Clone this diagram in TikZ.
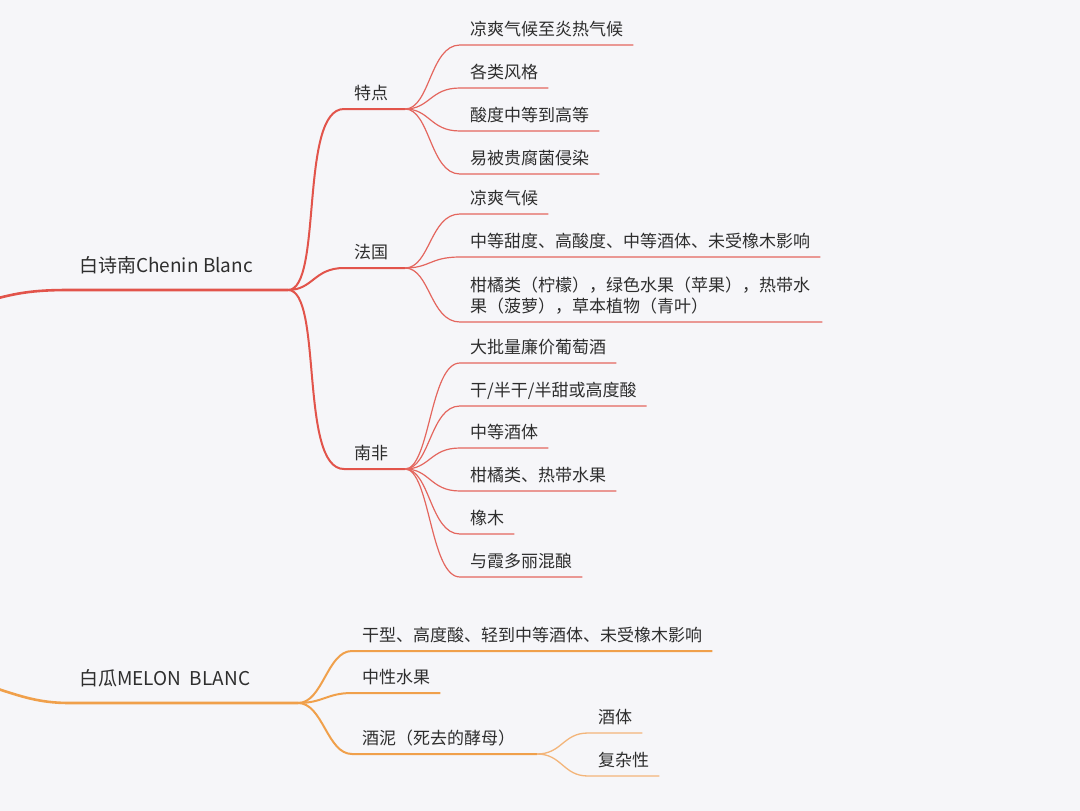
\documentclass[tikz,border=0pt]{standalone}
\usepackage{fontspec}
\setmainfont{Noto Sans CJK SC}
\usetikzlibrary{calc}

\definecolor{bgcol}{HTML}{F6F6F9}
\definecolor{txtcol}{HTML}{2E2E2E}
\definecolor{redline}{HTML}{E2544B}
\definecolor{redleaf}{HTML}{E4665E}
\definecolor{orline}{HTML}{F0A04B}
\definecolor{orleaf}{HTML}{F3B57A}

\begin{document}
\begin{tikzpicture}[
    x=1pt, y=-1pt,
    topic/.style={
        anchor=south west,
        inner xsep=10pt,
        inner ysep=14pt,
        text depth=3pt,
        text=txtcol,
        font=\fontsize{19}{23}\selectfont
    },
    subtopic/.style={
        anchor=south west,
        inner xsep=10pt,
        inner ysep=6pt,
        text depth=3pt,
        text=txtcol,
        font=\fontsize{17}{21}\selectfont
    },
    leaf/.style={subtopic, align=left},
    redmain/.style={line width=2.6pt, redline},
    redsub/.style={line width=2pt, redline},
    redleafl/.style={line width=1.2pt, redleaf},
    ormain/.style={line width=2.6pt, orline},
    orsub/.style={line width=2pt, orline},
    orleafl/.style={line width=1.3pt, orleaf}
]

% Background and frame
\useasboundingbox (0,0) rectangle (1080,811);
\fill[bgcol] (0,0) rectangle (1080,811);

% Roots coming in from the left
\coordinate (root1) at (-5,299);
\coordinate (root2) at (-5,688);

% ---------------- Chenin Blanc ----------------
\node[topic] (chenin) at (69,290) {白诗南Chenin Blanc};
\coordinate (cj) at (288,290);
\draw[redmain] (root1) .. controls +(25,-7) and +(-30,0) .. (chenin.south west) -- (cj);

% Sub topics
\node[subtopic] (tedian) at (344,109) {特点};
\node[subtopic] (faguo) at (344,268) {法国};
\node[subtopic] (nanfei) at (344,469) {南非};
\coordinate (tj) at (405,109);
\coordinate (fj) at (405,268);
\coordinate (nj) at (405,469);

\draw[redsub] (cj) .. controls +(35,0) and +(-45,0) .. (tedian.south west) -- (tj);
\draw[redsub] (cj) .. controls +(25,0) and +(-30,0) .. (faguo.south west) -- (fj);
\draw[redsub] (cj) .. controls +(35,0) and +(-45,0) .. (nanfei.south west) -- (nj);

% Leaves of 特点
\node[leaf] (t1) at (460,45) {凉爽气候至炎热气候};
\node[leaf] (t2) at (460,88) {各类风格};
\node[leaf] (t3) at (460,131) {酸度中等到高等};
\node[leaf] (t4) at (460,174) {易被贵腐菌侵染};

\draw[redleafl] (tj) .. controls +(25,0) and +(-30,0) .. (t1.south west) -- (t1.south east);
\draw[redleafl] (tj) .. controls +(25,0) and +(-30,0) .. (t2.south west) -- (t2.south east);
\draw[redleafl] (tj) .. controls +(25,0) and +(-30,0) .. (t3.south west) -- (t3.south east);
\draw[redleafl] (tj) .. controls +(25,0) and +(-30,0) .. (t4.south west) -- (t4.south east);

% Leaves of 法国
\node[leaf] (f1) at (460,214) {凉爽气候};
\node[leaf] (f2) at (460,257) {中等甜度、高酸度、中等酒体、未受橡木影响};
\node[leaf, text width=342pt, text depth=24pt] (f3) at (460,322) {柑橘类（柠檬），绿色水果（苹果），热带水\\果（菠萝），草本植物（青叶）};

\draw[redleafl] (fj) .. controls +(25,0) and +(-30,0) .. (f1.south west) -- (f1.south east);
\draw[redleafl] (fj) .. controls +(25,0) and +(-30,0) .. (f2.south west) -- (f2.south east);
\draw[redleafl] (fj) .. controls +(25,0) and +(-30,0) .. (f3.south west) -- (f3.south east);

% Leaves of 南非
\node[leaf] (n1) at (460,363) {大批量廉价葡萄酒};
\node[leaf] (n2) at (460,406) {干/半干/半甜或高度酸};
\node[leaf] (n3) at (460,448) {中等酒体};
\node[leaf] (n4) at (460,491) {柑橘类、热带水果};
\node[leaf] (n5) at (460,534) {橡木};
\node[leaf] (n6) at (460,577) {与霞多丽混酿};

\draw[redleafl] (nj) .. controls +(25,0) and +(-30,0) .. (n1.south west) -- (n1.south east);
\draw[redleafl] (nj) .. controls +(25,0) and +(-30,0) .. (n2.south west) -- (n2.south east);
\draw[redleafl] (nj) .. controls +(25,0) and +(-30,0) .. (n3.south west) -- (n3.south east);
\draw[redleafl] (nj) .. controls +(25,0) and +(-30,0) .. (n4.south west) -- (n4.south east);
\draw[redleafl] (nj) .. controls +(25,0) and +(-30,0) .. (n5.south west) -- (n5.south east);
\draw[redleafl] (nj) .. controls +(25,0) and +(-30,0) .. (n6.south west) -- (n6.south east);

% ---------------- Melon Blanc ----------------
\node[topic] (melon) at (69,703) {白瓜MELON\hspace{0.45em}BLANC};
\coordinate (mj) at (298,703);
\draw[ormain] (root2) .. controls +(25,8) and +(-30,0) .. (melon.south west) -- (mj);

\node[leaf] (m1) at (352,651) {干型、高度酸、轻到中等酒体、未受橡木影响};
\node[leaf] (m2) at (352,693) {中性水果};
\node[leaf] (m3) at (352,754) {酒泥（死去的酵母）};
\coordinate (lj) at (537,754);

\draw[orsub] (mj) .. controls +(25,0) and +(-25,0) .. (m1.south west) -- (m1.south east);
\draw[orsub] (mj) .. controls +(25,0) and +(-25,0) .. (m2.south west) -- (m2.south east);
\draw[orsub] (mj) .. controls +(25,0) and +(-25,0) .. (m3.south west) -- (lj);

% Leaves of 酒泥
\node[leaf] (l1) at (588,733) {酒体};
\node[leaf] (l2) at (588,776) {复杂性};

\draw[orleafl] (lj) .. controls +(25,0) and +(-25,0) .. (l1.south west) -- (l1.south east);
\draw[orleafl] (lj) .. controls +(25,0) and +(-25,0) .. (l2.south west) -- (l2.south east);

\end{tikzpicture}
\end{document}
